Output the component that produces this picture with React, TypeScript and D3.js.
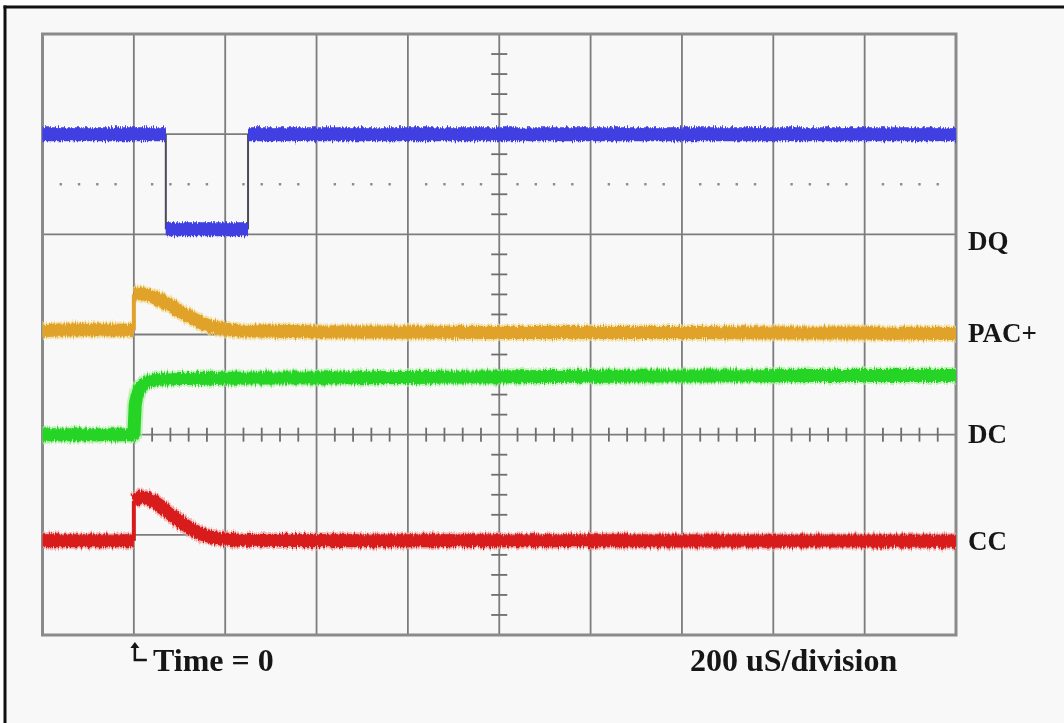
import React from "react";
import * as d3 from "d3";

// ---- data (time in microseconds, values in scope divisions) ----
const timeGrid = [-200, 0, 200, 400, 600, 800, 1000, 1200, 1400, 1600, 1800];
const voltGrid = [-2, -1, 0, 1, 2, 3, 4];

const dqTime = [-200, 70, 70, 250, 250, 1800];
const dqValue = [3.0, 3.0, 2.05, 2.05, 3.0, 3.0];

const pacTime = [-200, -100, 0, 0, 15, 35, 58, 80, 102, 125, 146, 168, 190, 234, 453, 800, 1200, 1500, 1800];
const pacValue = [1.04, 1.05, 1.04, 1.4, 1.41, 1.39, 1.34, 1.29, 1.23, 1.17, 1.12, 1.08, 1.06, 1.035, 1.025, 1.02, 1.02, 1.015, 1.01];

const dcTime = [-200, -100, 0, 3, 7, 12, 20, 32, 50, 100, 300, 600, 900, 1200, 1500, 1800];
const dcValue = [0.0, 0.0, 0.0, 0.3, 0.4, 0.46, 0.5, 0.53, 0.55, 0.56, 0.566, 0.57, 0.58, 0.585, 0.59, 0.59];

const ccTime = [-200, -100, 0, 0, 15, 35, 58, 80, 102, 125, 146, 168, 190, 234, 500, 1000, 1800];
const ccValue = [-1.06, -1.06, -1.06, -0.66, -0.62, -0.64, -0.71, -0.79, -0.87, -0.94, -0.99, -1.02, -1.04, -1.055, -1.06, -1.06, -1.065];

const channelNames = ["DQ", "PAC+", "DC", "CC"];
const channelLabelLevels = [1.84, 0.925, -0.08, -1.15];

const timeLabel = "Time = 0";
const scaleLabel = "200 uS/division";

type Pt = { t: number; v: number };
const zip = (ts: number[], vs: number[]): Pt[] => ts.map((t, i) => ({ t, v: vs[i] }));

// split a trace at vertical jumps (repeated time) into bands and connectors
function splitAtJumps(pts: Pt[]) {
  const bands: Pt[][] = [];
  const jumps: Pt[][] = [];
  let cur: Pt[] = [pts[0]];
  for (let i = 1; i < pts.length; i++) {
    if (pts[i].t === pts[i - 1].t) {
      bands.push(cur);
      jumps.push([pts[i - 1], pts[i]]);
      cur = [pts[i]];
    } else cur.push(pts[i]);
  }
  bands.push(cur);
  return { bands, jumps };
}

export default function App() {
  const W = 1064;
  const H = 723;
  const x = d3.scaleLinear().domain([-200, 1800]).range([42.5, 956]);
  const y = d3.scaleLinear().domain([-2, 4]).range([635, 34]);
  const line = d3
    .line<Pt>()
    .x((d) => x(d.t))
    .y((d) => y(d.v));

  const minorT = d3.range(-200, 1800.1, 40).filter((t) => Math.abs((t + 200) % 200) > 1e-6);
  const minorV = d3.range(-2, 4.01, 0.2).filter((v) => Math.abs(v - Math.round(v)) > 1e-6);

  const dq = splitAtJumps(zip(dqTime, dqValue));

  const traces = [
    { pts: zip(pacTime, pacValue), color: "#e1a22a", halo: "#f2d88a" },
    { pts: zip(dcTime, dcValue), color: "#27d427", halo: "#a8f0a0" },
    { pts: zip(ccTime, ccValue), color: "#d81a1a", halo: "#f0a0a0" },
  ].map((tr) => ({ ...tr, ...splitAtJumps(tr.pts) }));

  const font = "'Liberation Serif', 'Times New Roman', Times, serif";
  const x0 = x(0);

  return (
    <svg
      width={W}
      height={H}
      style={{ position: "absolute", left: 0, top: 0, background: "#ffffff" }}
    >
      <defs>
        <filter id="noise" filterUnits="userSpaceOnUse" x={0} y={0} width={W} height={H}>
          <feTurbulence type="fractalNoise" baseFrequency="0.9 0.05" numOctaves={2} seed={4} result="t" />
          <feColorMatrix
            in="t"
            type="matrix"
            values="0 0 0 0 0.5  1 0 0 0 0  0 0 0 0 0  0 0 0 0 1"
            result="m"
          />
          <feDisplacementMap in="SourceGraphic" in2="m" scale={7} xChannelSelector="R" yChannelSelector="G" />
        </filter>
        <filter id="soft">
          <feGaussianBlur stdDeviation={0.5} />
        </filter>
      </defs>

      {/* page */}
      <rect x={5} y={7} width={W - 5} height={H - 7} fill="#f8f8f8" />
      <line x1={5} y1={5.5} x2={5} y2={H} stroke="#111" strokeWidth={3} />
      <line x1={3.5} y1={7} x2={W} y2={7} stroke="#111" strokeWidth={3} />

      {/* graticule */}
      <g>
        {timeGrid.slice(1, -1).map((t) => (
          <line key={"vt" + t} x1={x(t)} x2={x(t)} y1={y(4)} y2={y(-2)} stroke="#7c7c7c" strokeWidth={1.8} />
        ))}
        {voltGrid.slice(1, -1).map((v) => (
          <line key={"hv" + v} x1={x(-200)} x2={x(1800)} y1={y(v)} y2={y(v)} stroke="#7c7c7c" strokeWidth={1.8} />
        ))}
        {minorT.map((t) => (
          <line key={"ct" + t} x1={x(t)} x2={x(t)} y1={y(0) - 7} y2={y(0) + 7} stroke="#6e6e6e" strokeWidth={1.8} />
        ))}
        {minorV.map((v) => (
          <line key={"cv" + v} x1={x(800) - 8} x2={x(800) + 8} y1={y(v)} y2={y(v)} stroke="#6e6e6e" strokeWidth={1.8} />
        ))}
        {minorT.map((t) => (
          <rect key={"dr" + t} x={x(t) - 1.2} y={y(2.5) - 1.2} width={2.4} height={2.4} fill="#8a8a8a" />
        ))}
        <rect
          x={x(-200)}
          y={y(4)}
          width={x(1800) - x(-200)}
          height={y(-2) - y(4)}
          fill="none"
          stroke="#8a8a8a"
          strokeWidth={3}
        />
      </g>

      {/* traces */}
      <g filter="url(#noise)">
        {traces.map((tr, i) => (
          <g key={"tr" + i}>
            {tr.bands.map((b, j) => (
              <path key={"h" + j} d={line(b) || ""} fill="none" stroke={tr.halo} strokeWidth={17} strokeLinejoin="round" opacity={0.7} />
            ))}
            {tr.bands.map((b, j) => (
              <path key={"b" + j} d={line(b) || ""} fill="none" stroke={tr.color} strokeWidth={13} strokeLinejoin="round" />
            ))}
          </g>
        ))}
        {dq.bands.map((seg, i) => (
          <path key={"dq" + i} d={line(seg) || ""} fill="none" stroke="#3f3fe2" strokeWidth={14} />
        ))}
      </g>
      {traces.map((tr, i) =>
        tr.jumps.map((jp, j) => (
          <path key={"j" + i + "-" + j} d={line(jp) || ""} fill="none" stroke={tr.color} strokeWidth={4} />
        ))
      )}
      {dq.jumps.map((jp, j) => (
        <path key={"dqj" + j} d={line(jp) || ""} fill="none" stroke="#4a4a5a" strokeWidth={2} />
      ))}
      {dq.bands.map((seg, i) => (
        <path key={"dq2" + i} d={line(seg) || ""} fill="none" stroke="#3f3fe2" strokeWidth={11} />
      ))}

      {/* labels */}
      <g fontFamily={font} fontWeight="bold" fill="#151515" filter="url(#soft)">
        {channelNames.map((n, i) => (
          <text key={n} x={968} y={y(channelLabelLevels[i])} fontSize={27}>
            {n}
          </text>
        ))}
        <text x={153} y={671} fontSize={32}>
          {timeLabel}
        </text>
        <text x={690} y={671} fontSize={32}>
          {scaleLabel}
        </text>
      </g>
      <path
        d={`M${x0 + 1},${647} L${x0 + 1},${660} L${x0 + 13},${660}`}
        fill="none"
        stroke="#151515"
        strokeWidth={2.5}
      />
      <path d={`M${x0 - 3.5},${648} L${x0 + 1},${642} L${x0 + 5.5},${648} Z`} fill="#151515" />
    </svg>
  );
}
